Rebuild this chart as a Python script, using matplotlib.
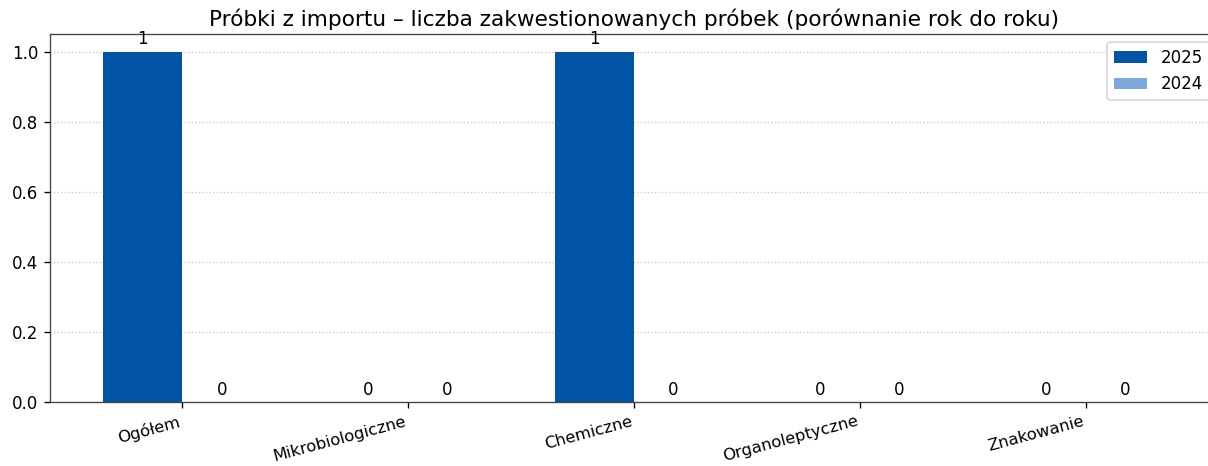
import numpy as np
from matplotlib import pyplot as plt

plt.rcParams['font.family'] = ['DejaVu Sans']

categories = ['Ogółem', 'Mikrobiologiczne', 'Chemiczne', 'Organoleptyczne', 'Znakowanie']
vals_2025 = [1, 0, 1, 0, 0]
vals_2024 = [0, 0, 0, 0, 0]
title = 'Próbki z importu – liczba zakwestionowanych próbek (porównanie rok do roku)'

c2025 = '#0353a4'
c2024 = '#7da7d9'

f = plt.figure(figsize=[1208 / 120., 466 / 120.], dpi=120)
ax = f.add_axes([50 / 1208., 64 / 466., 1168 / 1208., 368 / 466.])

x = np.arange(len(categories))
w = 0.35
b1 = ax.bar(x - w / 2, vals_2025, w, color=c2025, label='2025')
b2 = ax.bar(x + w / 2, vals_2024, w, color=c2024, label='2024')
ax.bar_label(b1, padding=2)
ax.bar_label(b2, padding=2)

ax.set_xticks(x)
ax.set_xticklabels(categories, rotation=15, ha='right', fontsize=9.8)
ax.set_title(title, fontsize=13, pad=5)
ax.grid(axis='y', linestyle=':', color='#cccccc', linewidth=0.8)
ax.set_axisbelow(True)
for s in ax.spines.values():
  s.set_color('#444444')
ax.legend(loc='upper right')

plt.savefig('out.png', dpi=120)
